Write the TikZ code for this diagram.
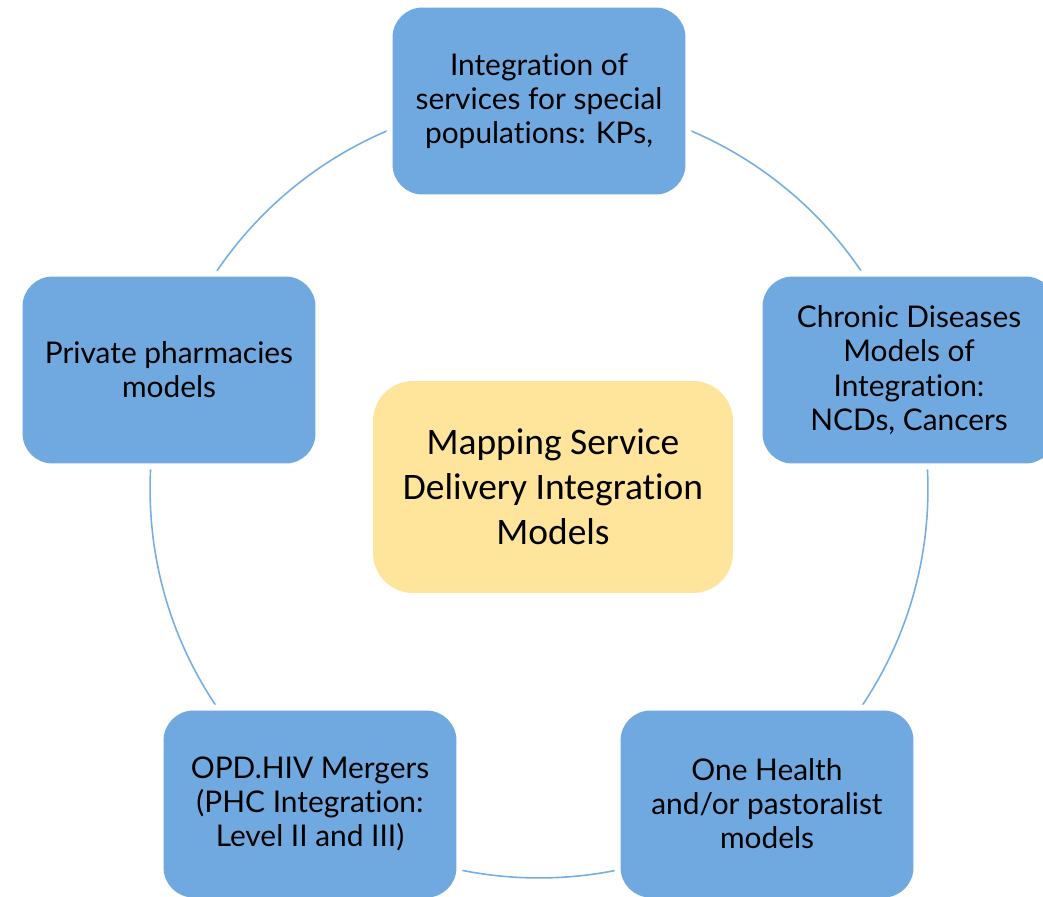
\documentclass[tikz,border=0pt]{standalone}
\usepackage{fontspec}
\setmainfont{Lato}[Ligatures=NoCommon]
\newfontfamily\hubfont{Carlito}[Ligatures=NoCommon]
\usetikzlibrary{positioning}
\definecolor{boxblue}{RGB}{111,169,224}
\definecolor{ringblue}{RGB}{118,174,226}
\definecolor{hubyellow}{RGB}{255,228,156}

\begin{document}
\begin{tikzpicture}[x=0.02cm,y=-0.02cm,
    model/.style={fill=boxblue, rounded corners=0.6cm, align=center,
      minimum width=5.86cm, minimum height=3.74cm, inner sep=0pt,
      preaction={draw=white, line width=0.24cm},
      font=\fontsize{17}{19.4}\selectfont},
    hub/.style={fill=hubyellow, rounded corners=0.8cm, align=center,
      minimum width=7.2cm, minimum height=4.24cm, inner sep=0pt,
      font=\hubfont\fontsize{21.3}{25.6}\selectfont},
    ring/.style={ringblue, line width=0.9pt}]
  \useasboundingbox (0,0) rectangle (1043,896);
  \clip (0,0) rectangle (1043,896);
  \coordinate (centre) at (539,489);
  \draw[ring] (centre) circle (7.78cm);
  % the five models round the ring
  \node[model] (special) at (539,101) {Integration of\\services for special\\populations: KPs,};
  \node[model] (chronic) at (909,370) {Chronic Diseases\\Models of\\Integration:\\NCDs, Cancers};
  \node[model] (onehealth) at (767,804) {One Health\\and/or pastoralist\\models};
  \node[model] (opd) at (310,804) {OPD.HIV Mergers\\(PHC Integration:\\Level II and III)};
  \node[model] (pharmacy) at (169,370) {Private pharmacies\\models};
  % the hub
  \node[hub] (mapping) at (553,487) {Mapping Service\\Delivery Integration\\Models};
\end{tikzpicture}
\end{document}
